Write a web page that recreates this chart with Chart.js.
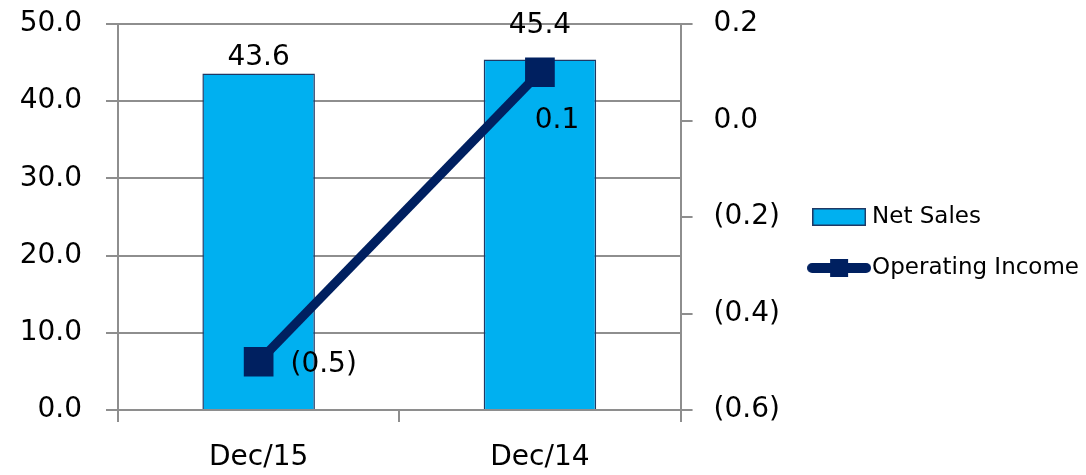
<!DOCTYPE html>
<html>
<head>
<meta charset="utf-8">
<script src="https://cdn.jsdelivr.net/npm/chart.js@4.4.1/dist/chart.umd.min.js"></script>
<style>
  html, body { margin: 0; padding: 0; background: #fff; }
</style>
</head>
<body>
<canvas id="chart" width="1086" height="475"></canvas>
<script>
// data
const periods = ['Dec/15', 'Dec/14'];
const netSales = [43.6, 45.4];
const operatingIncome = [-0.5, 0.1];
const salesTicks = [0, 10, 20, 30, 40, 50];
const incomeTicks = [-0.6, -0.4, -0.2, 0.0, 0.2];

// colours
const BAR_FILL   = '#00B0F0';
const BAR_EDGE   = '#1F3864';
const LINE_COLOR = '#002060';
const AXIS_GRAY  = '#8e8e8e';
const FONT = '"DejaVu Sans", sans-serif';

// label nudges (px) relative to bar top / point centre, per dataset
const LABEL_NUDGE = [
  [{ dx: 0, dy: -16 }, { dx: 0, dy: -34 }],
  [{ dx: 65, dy: 3 }, { dx: 17, dy: 48 }],
];

const fmtSales  = v => v.toFixed(1);
const fmtIncome = v => {
  const s = Math.abs(v).toFixed(1);
  return v < -1e-9 ? '(' + s + ')' : s;
};

// legend icons
function netSalesIcon() {
  const c = document.createElement('canvas');
  c.width = 54; c.height = 18;
  const g = c.getContext('2d');
  g.fillStyle = BAR_FILL;
  g.fillRect(1, 1, 52, 16);
  g.strokeStyle = BAR_EDGE;
  g.lineWidth = 1.5;
  g.strokeRect(0.75, 0.75, 52.5, 16.5);
  return c;
}
function incomeIcon() {
  const c = document.createElement('canvas');
  c.width = 64; c.height = 20;
  const g = c.getContext('2d');
  g.strokeStyle = LINE_COLOR;
  g.lineWidth = 10;
  g.lineCap = 'round';
  g.beginPath(); g.moveTo(5, 10); g.lineTo(59, 10); g.stroke();
  g.fillStyle = LINE_COLOR;
  g.fillRect(23, 1, 18, 18);
  return c;
}
const ICONS = [netSalesIcon(), incomeIcon()];

// draws the value labels next to bars and points
const valueLabels = {
  id: 'valueLabels',
  afterLayout(chart) {
    // legend sits a little above the vertical centre
    if (chart.legend) { chart.legend.top -= 7; chart.legend.bottom -= 7; }
  },
  afterDatasetsDraw(chart) {
    const ctx = chart.ctx;
    ctx.save();
    ctx.font = '28px ' + FONT;
    ctx.fillStyle = '#000';
    ctx.textAlign = 'center';
    ctx.textBaseline = 'middle';
    chart.data.datasets.forEach((ds, di) => {
      const meta = chart.getDatasetMeta(di);
      meta.data.forEach((el, i) => {
        const n = LABEL_NUDGE[di][i];
        const txt = di === 0 ? fmtSales(ds.data[i]) : fmtIncome(ds.data[i]);
        ctx.fillText(txt, el.x + n.dx, el.y + n.dy);
      });
    });
    ctx.restore();
  },
};

// keep the plot area edges where we set them
const noEdgePad = s => { s.paddingTop = 0; s.paddingBottom = 0; };

new Chart(document.getElementById('chart'), {
  data: {
    labels: periods,
    datasets: [
      {
        type: 'bar',
        label: 'Net Sales',
        data: netSales,
        yAxisID: 'ySales',
        backgroundColor: BAR_FILL,
        borderColor: BAR_EDGE,
        borderWidth: 1.5,
        barPercentage: 0.4,
        categoryPercentage: 1,
        order: 2,
      },
      {
        type: 'line',
        label: 'Operating Income',
        data: operatingIncome,
        yAxisID: 'yIncome',
        borderColor: LINE_COLOR,
        borderWidth: 9,
        pointStyle: 'rect',
        pointRadius: 21,
        pointBackgroundColor: LINE_COLOR,
        pointBorderColor: LINE_COLOR,
        pointBorderWidth: 0,
        order: 1,
      },
    ],
  },
  options: {
    responsive: false,
    animation: false,
    layout: { padding: { top: 24, right: -3, bottom: 0, left: 0 } },
    plugins: {
      tooltip: { enabled: false },
      legend: {
        position: 'right',
        maxWidth: 320,
        labels: {
          usePointStyle: true,
          pointStyleWidth: 43,
          padding: 28,
          color: '#000',
          font: { family: FONT, size: 23 },
          generateLabels: chart => chart.data.datasets.map((ds, i) => ({
            text: ds.label,
            pointStyle: ICONS[i],
            fillStyle: 'transparent',
            strokeStyle: 'transparent',
            lineWidth: 0,
            datasetIndex: i,
          })),
        },
      },
    },
    scales: {
      x: {
        offset: true,
        grid: { offset: true, drawOnChartArea: false, tickLength: 12, color: AXIS_GRAY, lineWidth: 2 },
        border: { display: false },
        ticks: { color: '#000', font: { family: FONT, size: 28 }, padding: 19, maxRotation: 0 },
        afterFit: s => { s.height = 65; },
      },
      ySales: {
        position: 'left',
        min: 0,
        max: 50,
        afterBuildTicks: s => { s.ticks = salesTicks.map(v => ({ value: v })); },
        grid: { color: AXIS_GRAY, lineWidth: 2, tickLength: 12 },
        border: { color: AXIS_GRAY, width: 2 },
        ticks: { color: '#000', font: { family: FONT, size: 28 }, padding: 24, callback: v => fmtSales(v) },
        afterFit: s => { s.width = 118; noEdgePad(s); },
      },
      yIncome: {
        position: 'right',
        min: -0.6,
        max: 0.2,
        afterBuildTicks: s => { s.ticks = incomeTicks.map(v => ({ value: v })); },
        grid: { drawOnChartArea: false, color: AXIS_GRAY, lineWidth: 2, tickLength: 12 },
        border: { color: AXIS_GRAY, width: 2 },
        ticks: { color: '#000', font: { family: FONT, size: 28 }, padding: 21, callback: v => fmtIncome(v) },
        afterFit: s => { s.width = 109; noEdgePad(s); },
      },
    },
  },
  plugins: [valueLabels],
});
</script>
</body>
</html>
